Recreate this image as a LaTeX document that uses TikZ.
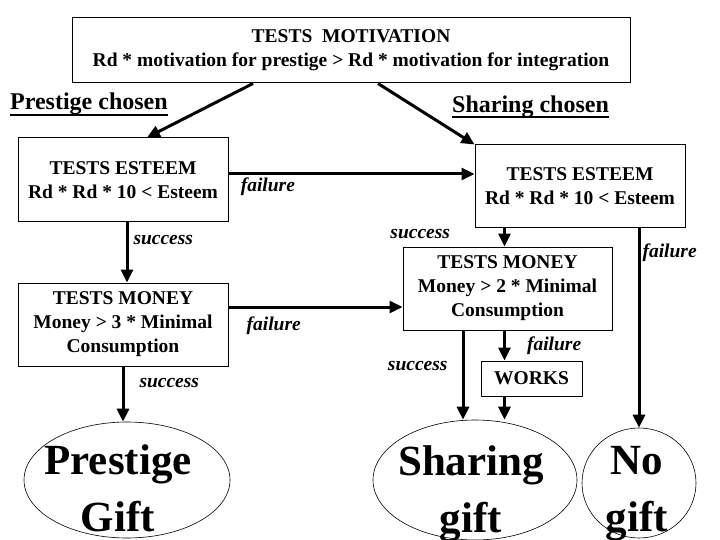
\documentclass[tikz,border=0pt]{standalone}
\usepackage{fontspec}
\setmainfont{Liberation Serif}
\usetikzlibrary{arrows.meta,shapes.geometric}

\begin{document}
\begin{tikzpicture}[x=1pt,y=-1pt, >={Triangle[length=13pt,width=12pt]},
  test/.style={draw,line width=1pt,align=center,inner sep=0pt,font=\fontsize{19.5}{24}\selectfont\bfseries},
  conn/.style={->,line width=3pt},
  lbl/.style={font=\fontsize{19.5}{24}\selectfont\bfseries\itshape,inner sep=2pt},
  chosen/.style={font=\fontsize{24}{28}\selectfont\bfseries,inner sep=0pt},
  gift/.style={draw,ellipse,line width=0.6pt,inner sep=0pt},
  bigtxt/.style={align=center,inner sep=0pt,font=\fontsize{43}{57}\selectfont\bfseries}]
\useasboundingbox (0,0) rectangle (720,540);
% tests
\node[test,minimum width=558pt,minimum height=65pt] (motiv) at (351,50.5)
  {TESTS~~MOTIVATION\\Rd * motivation for prestige > Rd * motivation for integration};
\node[test,minimum width=210pt,minimum height=84pt] (esteemL) at (123,180) {TESTS ESTEEM\\Rd * Rd * 10 < Esteem};
\node[test,minimum width=210pt,minimum height=83pt] (esteemR) at (580,186.5) {TESTS ESTEEM\\Rd * Rd * 10 < Esteem};
\node[test,minimum width=210pt,minimum height=83pt] (moneyL) at (123,324.5) {TESTS MONEY\\Money > 3 * Minimal\\Consumption};
\node[test,minimum width=209pt,minimum height=83pt] (moneyR) at (507.5,288.5) {TESTS MONEY\\Money > 2 * Minimal\\Consumption};
\node[test,minimum width=101pt,minimum height=35pt] (works) at (531.5,378.5) {WORKS};
% choices
\node[chosen,anchor=base west] (prestChosen) at (10,110) {Prestige chosen};
\node[chosen,anchor=base west] (sharChosen) at (452,113) {Sharing chosen};
\draw[line width=2pt] ([yshift=-5pt]prestChosen.base west) -- ([yshift=-5pt]prestChosen.base east);
\draw[line width=2pt] ([yshift=-4.5pt]sharChosen.base west) -- ([yshift=-4.5pt]sharChosen.base east);
% gifts
\node[gift,minimum width=206pt,minimum height=116pt] (giftP) at (127,480) {};
\node[gift,minimum width=204pt,minimum height=120pt] (giftS) at (475,480) {};
\node[gift,minimum width=114pt,minimum height=110pt] (giftN) at (639,483) {};
\node[bigtxt] (giftPtxt) at (118,488) {Prestige\\Gift};
\node[bigtxt] (giftStxt) at (471,493.5) {Sharing\\gift};
\node[bigtxt] (giftNtxt) at (637,494) {No\\gift};
\coordinate (sucR) at ([xshift=-44.5pt]moneyR.south);
\coordinate (failR) at ([xshift=-3pt]moneyR.south);
\coordinate (sucEst) at ([xshift=-3pt]moneyR.north);
% connectors
\draw[conn] ([xshift=-98pt]motiv.south) -- ([xshift=24pt]esteemL.north);
\draw[conn] ([xshift=27pt]motiv.south) -- (esteemR.north west);
\draw[conn] ([yshift=6pt]esteemL.east) -- ([yshift=6pt]esteemL.east -| esteemR.west)
  node[lbl,pos=0.16,below] {failure};
\draw[conn] ([xshift=4pt]esteemL.south) -- ([xshift=4pt]moneyL.north)
  node[lbl,pos=0.3,right,xshift=3pt] {success};
\draw[conn] ([yshift=17.5pt]moneyL.east) -- ([yshift=17.5pt]moneyL.east -| moneyR.west)
  node[lbl,pos=0.26,below=6pt] {failure};
\draw[conn] (moneyL.south) -- (moneyL.south |- giftP.north)
  node[lbl,pos=0.3,right,xshift=13pt] {success};
\draw[conn] (sucEst |- esteemR.south) -- (sucEst)
  node[lbl,pos=0.3,left,xshift=-51pt] {success};
\draw[conn] (giftN.north |- esteemR.south) -- (giftN.north)
  node[lbl,pos=0.12,right] {failure};
\draw[conn] (sucR) -- (sucR |- giftS.north)
  node[lbl,pos=0.4,left,xshift=-12pt] {success};
\draw[conn] (failR) -- (failR |- works.north)
  node[lbl,pos=0.5,right,xshift=19pt] {failure};
\draw[conn] (failR |- works.south) -- (failR |- giftS.north);
\end{tikzpicture}
\end{document}
